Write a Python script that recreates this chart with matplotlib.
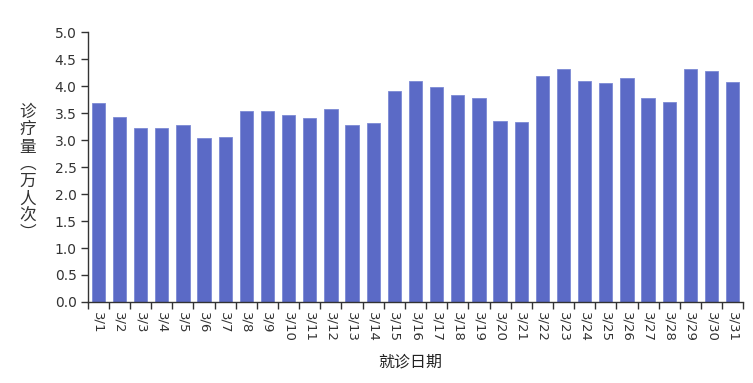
import matplotlib.pyplot as plt
import numpy as np

plt.rcParams['font.family'] = ['DejaVu Sans', 'Noto Sans CJK SC']

fechas = ['3/%d' % d for d in range(1, 32)]
visitas = [3.68, 3.43, 3.23, 3.23, 3.27, 3.03, 3.05, 3.54, 3.54, 3.46,
           3.41, 3.58, 3.27, 3.32, 3.90, 4.09, 3.98, 3.83, 3.78, 3.35,
           3.33, 4.19, 4.31, 4.09, 4.06, 4.15, 3.78, 3.70, 4.31, 4.27,
           4.07]
y_ticks = np.arange(0, 5.01, 0.5)

fig = plt.figure(figsize=(7.53, 3.83), dpi=100)
ax = fig.add_axes([0.1165, 0.2115, 0.8706, 0.7049])

x = np.arange(len(fechas))
ax.bar(x, visitas, width=0.63, color='#5B6AC6', edgecolor='#7C89D4', linewidth=0.6)

ax.set_xlim(-0.5, len(fechas) - 0.5)
ax.set_ylim(0, 5.0)

# ticks at the band edges, labels at the centres
ax.set_xticks(np.arange(len(fechas) + 1) - 0.5)
ax.set_xticklabels([])
ax.set_xticks(x, minor=True)
ax.set_xticklabels(fechas, minor=True, rotation=-90, fontsize=9.5, color='#333333')
ax.tick_params(axis='x', which='minor', length=0, pad=7)
ax.tick_params(axis='x', which='major', length=5, width=1, color='#333333')

ax.set_yticks(y_ticks)
ax.set_yticklabels(['%.1f' % v for v in y_ticks], fontsize=10, color='#333333')
ax.tick_params(axis='y', length=5, width=1, color='#333333', pad=3)

for s in ['top', 'right']:
    ax.spines[s].set_visible(False)
for s in ['left', 'bottom']:
    ax.spines[s].set_color('#333333')
    ax.spines[s].set_linewidth(1)

# titulo eje y, caracteres verticales
fig.text(28 / 753, 1 - 173 / 383, '\n'.join('诊疗量︵万人次︶'), ha='center', va='center',
         fontsize=12, linespacing=1.02, color='#333333', family=['Noto Sans CJK SC'])

# titulo eje x
fig.text(410 / 753, 1 - 362 / 383, '就诊日期', ha='center', va='center',
         fontsize=11.5, color='#222222', family=['Noto Sans CJK SC'])

plt.savefig('out.png', dpi=100)
